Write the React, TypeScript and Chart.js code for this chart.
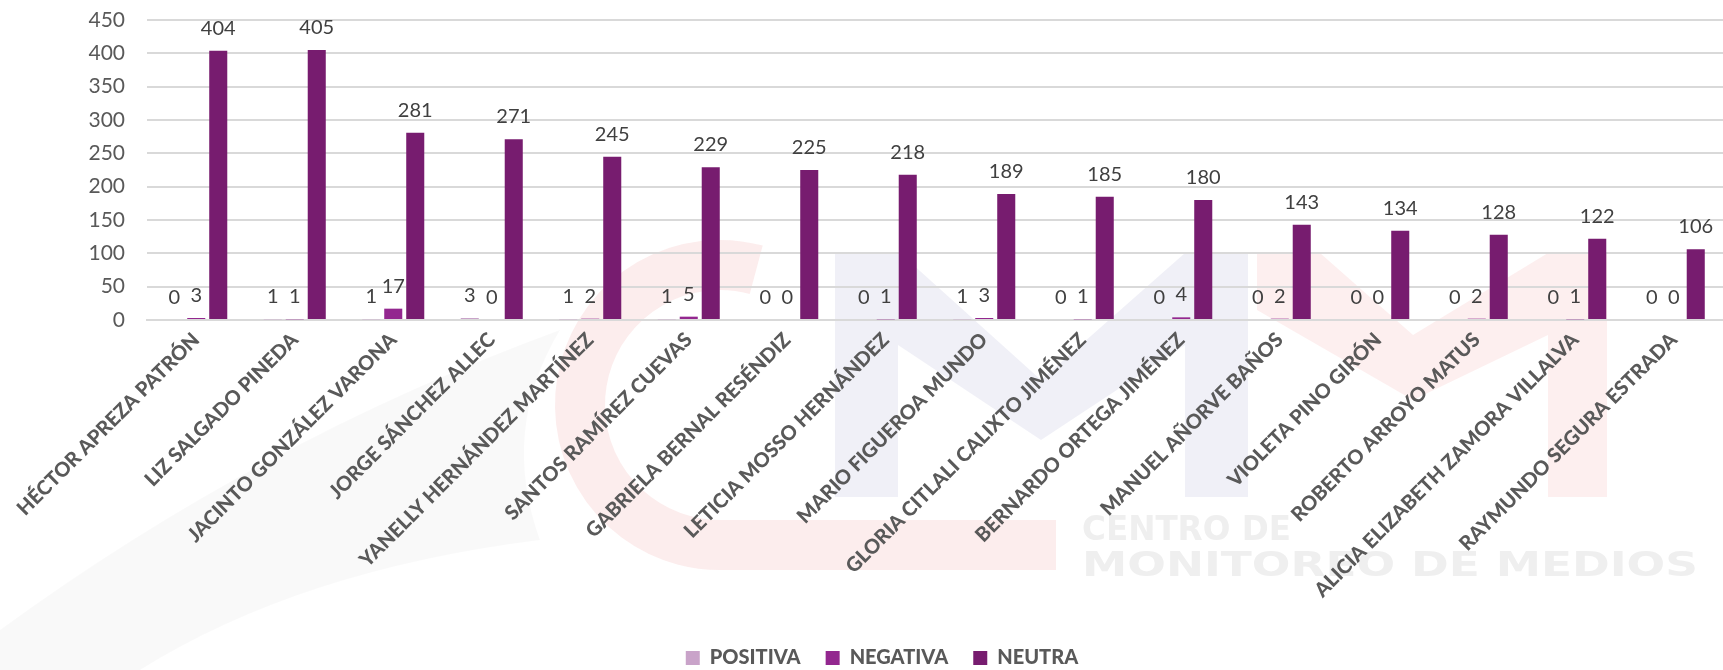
import React, { useEffect, useRef } from "react";
import { Chart, registerables } from "chart.js";

Chart.register(...registerables);

const categories = [
  "HÉCTOR APREZA PATRÓN",
  "LIZ SALGADO PINEDA",
  "JACINTO GONZÁLEZ VARONA",
  "JORGE SÁNCHEZ ALLEC",
  "YANELLY HERNÁNDEZ MARTÍNEZ",
  "SANTOS RAMÍREZ CUEVAS",
  "GABRIELA BERNAL RESÉNDIZ",
  "LETICIA MOSSO HERNÁNDEZ",
  "MARIO FIGUEROA MUNDO",
  "GLORIA CITLALI CALIXTO JIMÉNEZ",
  "BERNARDO ORTEGA JIMÉNEZ",
  "MANUEL AÑORVE BAÑOS",
  "VIOLETA PINO GIRÓN",
  "ROBERTO ARROYO MATUS",
  "ALICIA ELIZABETH ZAMORA VILLALVA",
  "RAYMUNDO SEGURA ESTRADA",
];

const positiva = [0, 1, 1, 3, 1, 1, 0, 0, 1, 0, 0, 0, 0, 0, 0, 0];
const negativa = [3, 1, 17, 0, 2, 5, 0, 1, 3, 1, 4, 2, 0, 2, 1, 0];
const neutra = [404, 405, 281, 271, 245, 229, 225, 218, 189, 185, 180, 143, 134, 128, 122, 106];

const seriesNames = ["POSITIVA", "NEGATIVA", "NEUTRA"];
const seriesColors = ["#C9A3C9", "#93278F", "#771C6F"];

const yTicks = { min: 0, max: 450, step: 50 };

const W = 1723;
const H = 670;
const PLOT_LEFT = 147;
const PLOT_TOP = 20;
const PLOT_BOTTOM = 320;
const LEGEND_SHIFT_Y = 8;
const LEGEND_SHIFT_X = 16;

// faint background logo (decoration only)
const watermarkPlugin = {
  id: "watermark",
  beforeDraw(chart: any) {
    const ctx = chart.ctx;
    ctx.save();
    // soft gray swoosh
    ctx.fillStyle = "rgba(0,0,0,0.022)";
    ctx.beginPath();
    ctx.moveTo(0, 630);
    ctx.quadraticCurveTo(260, 440, 560, 330);
    ctx.quadraticCurveTo(500, 430, 540, 540);
    ctx.quadraticCurveTo(300, 570, 140, 670);
    ctx.lineTo(0, 670);
    ctx.closePath();
    ctx.fill();
    // red C with base
    ctx.strokeStyle = "rgba(225,50,50,0.09)";
    ctx.fillStyle = "rgba(225,50,50,0.09)";
    ctx.lineWidth = 50;
    ctx.lineCap = "butt";
    ctx.beginPath();
    ctx.arc(720, 405, 140, (-75 * Math.PI) / 180, (90 * Math.PI) / 180, true);
    ctx.stroke();
    ctx.fillRect(720, 520, 336, 50);
    // blue M
    ctx.fillStyle = "rgba(60,60,150,0.08)";
    ctx.beginPath();
    ctx.moveTo(835, 497);
    ctx.lineTo(835, 253);
    ctx.lineTo(900, 253);
    ctx.lineTo(1041, 380);
    ctx.lineTo(1185, 253);
    ctx.lineTo(1248, 253);
    ctx.lineTo(1248, 497);
    ctx.lineTo(1185, 497);
    ctx.lineTo(1185, 345);
    ctx.lineTo(1041, 440);
    ctx.lineTo(898, 345);
    ctx.lineTo(898, 497);
    ctx.closePath();
    ctx.fill();
    // red M (right part)
    ctx.fillStyle = "rgba(225,50,50,0.08)";
    ctx.beginPath();
    ctx.moveTo(1257, 253);
    ctx.lineTo(1320, 253);
    ctx.lineTo(1413, 335);
    ctx.lineTo(1548, 253);
    ctx.lineTo(1607, 253);
    ctx.lineTo(1607, 497);
    ctx.lineTo(1548, 497);
    ctx.lineTo(1548, 335);
    ctx.lineTo(1413, 400);
    ctx.lineTo(1257, 310);
    ctx.closePath();
    ctx.fill();
    // text
    ctx.fillStyle = "#EFEFEF";
    ctx.textBaseline = "middle";
    ctx.textAlign = "left";
    const drawFit = (text: string, x: number, y: number, w: number, size: number) => {
      ctx.font = `bold ${size}px "DejaVu Sans"`;
      const m = ctx.measureText(text).width;
      ctx.save();
      ctx.translate(x, y);
      ctx.scale(w / m, 1);
      ctx.fillText(text, 0, 0);
      ctx.restore();
    };
    drawFit("CENTRO DE", 1082, 531, 209, 33);
    drawFit("MONITOREO DE MEDIOS", 1082, 567, 616, 33);
    ctx.restore();
  },
};

const dataLabelPlugin = {
  id: "dataLabels",
  afterDatasetsDraw(chart: any) {
    const ctx = chart.ctx;
    ctx.save();
    ctx.fillStyle = "#404040";
    ctx.font = '20px "Lato"';
    ctx.textAlign = "center";
    ctx.textBaseline = "alphabetic";
    chart.data.datasets.forEach((ds: any, i: number) => {
      const meta = chart.getDatasetMeta(i);
      meta.data.forEach((bar: any, j: number) => {
        ctx.fillText(String(ds.data[j]), bar.x, bar.y - 16);
      });
    });
    ctx.restore();
  },
};

const legendShiftPlugin = {
  id: "legendShift",
  afterLayout(chart: any) {
    const lg = chart.legend;
    if (lg) {
      lg.top += LEGEND_SHIFT_Y;
      lg.bottom += LEGEND_SHIFT_Y;
      lg.left += LEGEND_SHIFT_X;
      lg.right += LEGEND_SHIFT_X;
    }
  },
};

export default function App() {
  const ref = useRef<HTMLCanvasElement | null>(null);
  useEffect(() => {
    document.body.style.margin = "0";
    if (!ref.current) return;
    const chart = new Chart(ref.current, {
      type: "bar",
      data: {
        labels: categories,
        datasets: [positiva, negativa, neutra].map((d, i) => ({
          label: seriesNames[i],
          data: d,
          backgroundColor: seriesColors[i],
          borderWidth: 0,
          categoryPercentage: 0.67,
          barPercentage: 0.82,
        })),
      },
      options: {
        animation: false,
        responsive: false,
        maintainAspectRatio: false,
        layout: { padding: { top: PLOT_TOP, left: 0, right: -9, bottom: 0 } },
        plugins: {
          tooltip: { enabled: false },
          legend: {
            position: "bottom",
            labels: {
              boxWidth: 14,
              boxHeight: 14,
              padding: 25,
              color: "#595959",
              font: { family: "Lato", size: 20, weight: "900" },
            },
          },
        },
        scales: {
          x: {
            grid: { display: false, drawTicks: false },
            border: { display: true, color: "#D9D9D9", width: 2 },
            ticks: {
              autoSkip: false,
              maxRotation: 45,
              minRotation: 45,
              padding: 8,
              color: "#595959",
              font: { family: "Lato", size: 20, weight: "900" },
            },
            afterFit(scale: any) {
              const lh = scale.chart.legend ? scale.chart.legend.height : 53;
              scale.height = H - PLOT_BOTTOM - lh;
              scale.paddingLeft = 0;
              scale.paddingRight = 0;
            },
          },
          y: {
            min: yTicks.min,
            max: yTicks.max,
            grid: { color: "#D9D9D9", lineWidth: 2, drawTicks: false },
            border: { display: false },
            ticks: {
              stepSize: yTicks.step,
              padding: 22,
              color: "#595959",
              font: { family: "Lato", size: 21 },
            },
            afterFit(scale: any) {
              scale.width = PLOT_LEFT;
              scale.paddingTop = 0;
              scale.paddingBottom = 0;
            },
          },
        },
      },
      plugins: [watermarkPlugin, dataLabelPlugin, legendShiftPlugin],
    });
    return () => chart.destroy();
  }, []);
  return (
    <div style={{ position: "absolute", left: 0, top: 0, width: W, height: H }}>
      <canvas ref={ref} width={W} height={H} style={{ width: W, height: H }} />
    </div>
  );
}
